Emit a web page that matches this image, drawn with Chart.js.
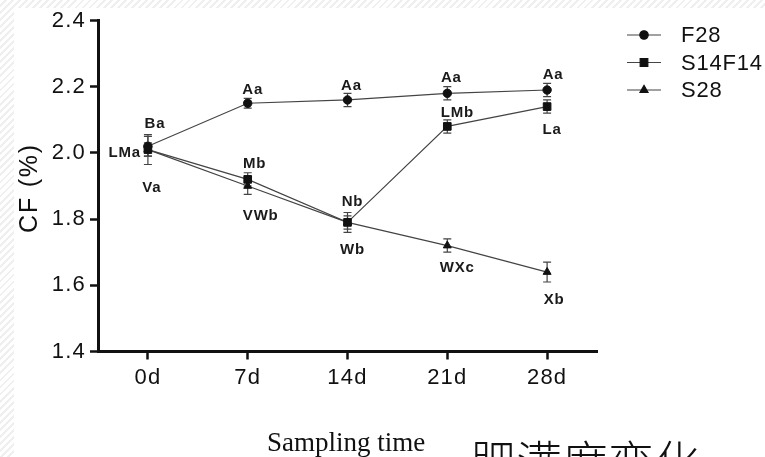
<!DOCTYPE html>
<html>
<head>
<meta charset="utf-8">
<script src="https://cdn.jsdelivr.net/npm/chart.js@4.4.0/dist/chart.umd.min.js"></script>
<style>
  html, body { margin: 0; padding: 0; background: #fff; }
  #wrap { position: relative; width: 765px; height: 457px; overflow: hidden; }
  .hatch { position: absolute; background: repeating-linear-gradient(135deg, #fff 0 3px, #efefef 3px 5px); }
  #chart { position: absolute; left: 0; top: 0; }
</style>
</head>
<body>
<div id="wrap">
  <div class="hatch" style="left:0;top:0;width:14px;height:457px"></div>
  <div class="hatch" style="left:0;top:0;width:765px;height:8px"></div>
  <canvas id="chart" width="765" height="457"></canvas>
</div>
<script>
const labels = ["0d", "7d", "14d", "21d", "28d"];

const f28 = [2.02, 2.15, 2.16, 2.18, 2.19];
const f28Err = [0.03, 0.015, 0.02, 0.02, 0.02];
const f28Letters = ["Ba", "Aa", "Aa", "Aa", "Aa"];

const s14f14 = [2.01, 1.92, 1.79, 2.08, 2.14];
const s14f14Err = [0.02, 0.02, 0.03, 0.02, 0.02];
const s14f14Letters = ["LMa", "Mb", "Nb", "LMb", "La"];

const s28 = [2.01, 1.90, 1.79, 1.72, 1.64];
const s28Err = [0.045, 0.025, 0.02, 0.02, 0.03];
const s28Letters = ["Va", "VWb", "Wb", "WXc", "Xb"];

const yTicks = [1.4, 1.6, 1.8, 2.0, 2.2, 2.4];

// where each letter group sits relative to its point: [dx, dy, align]
const letterPlacement = [
  [[7, -22, "center"], [5, -13, "center"], [4, -14, "center"], [4, -15, "center"], [6, -15, "center"]],
  [[-7, 3, "right"], [7, -16, "center"], [5, -21, "center"], [10, -14, "center"], [5, 23, "center"]],
  [[4, 38, "center"], [13, 30, "center"], [5, 27, "center"], [10, 22, "center"], [7, 28, "center"]]
];

const INK = "#111";
const LINE = "#444";
const SANS = "'Liberation Sans', Arial, sans-serif";
const SPACING = "1.2px";

function makeSet(name, values, errs, letters, style, radius) {
  return {
    label: name,
    data: values,
    errors: errs,
    letters: letters,
    borderColor: LINE,
    borderWidth: 1.2,
    pointStyle: style,
    pointRadius: radius,
    pointHoverRadius: radius,
    pointBackgroundColor: INK,
    pointBorderColor: INK,
    pointBorderWidth: 1,
    fill: false,
    tension: 0
  };
}

const spacingPlugin = {
  id: "spacing",
  beforeLayout(chart) { chart.ctx.letterSpacing = SPACING; },
  beforeDraw(chart) { chart.ctx.letterSpacing = SPACING; }
};

const errorBars = {
  id: "errorBars",
  beforeDatasetsDraw(chart) {
    const ctx = chart.ctx;
    const y = chart.scales.y;
    ctx.save();
    ctx.strokeStyle = LINE;
    ctx.lineWidth = 1.2;
    chart.data.datasets.forEach((ds, i) => {
      chart.getDatasetMeta(i).data.forEach((pt, j) => {
        const top = y.getPixelForValue(ds.data[j] + ds.errors[j]);
        const bot = y.getPixelForValue(ds.data[j] - ds.errors[j]);
        ctx.beginPath();
        ctx.moveTo(pt.x, top); ctx.lineTo(pt.x, bot);
        ctx.moveTo(pt.x - 4, top); ctx.lineTo(pt.x + 4, top);
        ctx.moveTo(pt.x - 4, bot); ctx.lineTo(pt.x + 4, bot);
        ctx.stroke();
      });
    });
    ctx.restore();
  }
};

const annotations = {
  id: "annotations",
  afterDraw(chart) {
    const ctx = chart.ctx;
    ctx.save();

    // significance letters
    ctx.font = "bold 15px " + SANS;
    ctx.letterSpacing = "0.8px";
    ctx.fillStyle = "#1a1a1a";
    ctx.textBaseline = "middle";
    chart.data.datasets.forEach((ds, i) => {
      chart.getDatasetMeta(i).data.forEach((pt, j) => {
        const p = letterPlacement[i][j];
        ctx.textAlign = p[2];
        ctx.fillText(ds.letters[j], pt.x + p[0], pt.y + p[1]);
      });
    });

    // legend
    ctx.font = "22px " + SANS;
    ctx.letterSpacing = "0.8px";
    ctx.textAlign = "left";
    chart.data.datasets.forEach((ds, i) => {
      const ly = 35 + i * 27.5;
      ctx.strokeStyle = LINE;
      ctx.lineWidth = 1.2;
      ctx.beginPath();
      ctx.moveTo(627, ly); ctx.lineTo(661, ly);
      ctx.stroke();
      ctx.fillStyle = INK;
      ctx.strokeStyle = INK;
      Chart.helpers.drawPoint(ctx, { pointStyle: ds.pointStyle, radius: ds.pointRadius, borderWidth: 1, rotation: 0 }, 644, ly);
      ctx.fillStyle = INK;
      ctx.fillText(ds.label, 681, ly + 1);
    });

    // axis titles
    ctx.letterSpacing = "1.8px";
    ctx.font = "25px " + SANS;
    ctx.translate(30, 188);
    ctx.rotate(-Math.PI / 2);
    ctx.textAlign = "center";
    ctx.fillText("CF (%)", 0, 0);
    ctx.setTransform(1, 0, 0, 1, 0, 0);

    ctx.letterSpacing = "0px";
    ctx.textBaseline = "alphabetic";
    ctx.textAlign = "left";
    ctx.font = "27px 'Liberation Serif', 'Times New Roman', serif";
    ctx.fillText("Sampling time", 267, 451);
    ctx.font = "300 46px 'Noto Sans CJK SC', sans-serif";
    ctx.fillText("肥满度变化", 470, 479);
    ctx.restore();
  }
};

new Chart(document.getElementById("chart"), {
  type: "line",
  data: {
    labels: labels,
    datasets: [
      makeSet("F28", f28, f28Err, f28Letters, "circle", 4.2),
      makeSet("S14F14", s14f14, s14f14Err, s14f14Letters, "rect", 5.4),
      makeSet("S28", s28, s28Err, s28Letters, "triangle", 4.6)
    ]
  },
  options: {
    responsive: false,
    animation: false,
    layout: { padding: { left: 0, top: 20.5, right: 168, bottom: 0 } },
    plugins: { legend: { display: false }, tooltip: { enabled: false } },
    scales: {
      x: {
        type: "category",
        offset: true,
        afterFit(scale) { scale.height = 105.5; },
        grid: { display: true, offset: false, drawOnChartArea: false, tickLength: 8, tickWidth: 2.5, tickColor: INK },
        border: { color: INK, width: 3 },
        ticks: { color: INK, padding: 5, font: { family: SANS, size: 22 } }
      },
      y: {
        min: 1.4,
        max: 2.4,
        afterFit(scale) { scale.width = 98; },
        afterBuildTicks(scale) { scale.ticks = yTicks.map(v => ({ value: v })); },
        grid: { drawOnChartArea: false, tickLength: 8, tickWidth: 2.5, tickColor: INK },
        border: { color: INK, width: 3 },
        ticks: {
          color: INK,
          padding: 4,
          font: { family: SANS, size: 22 },
          callback: v => Number(v).toFixed(1)
        }
      }
    }
  },
  plugins: [spacingPlugin, errorBars, annotations]
});
</script>
</body>
</html>
